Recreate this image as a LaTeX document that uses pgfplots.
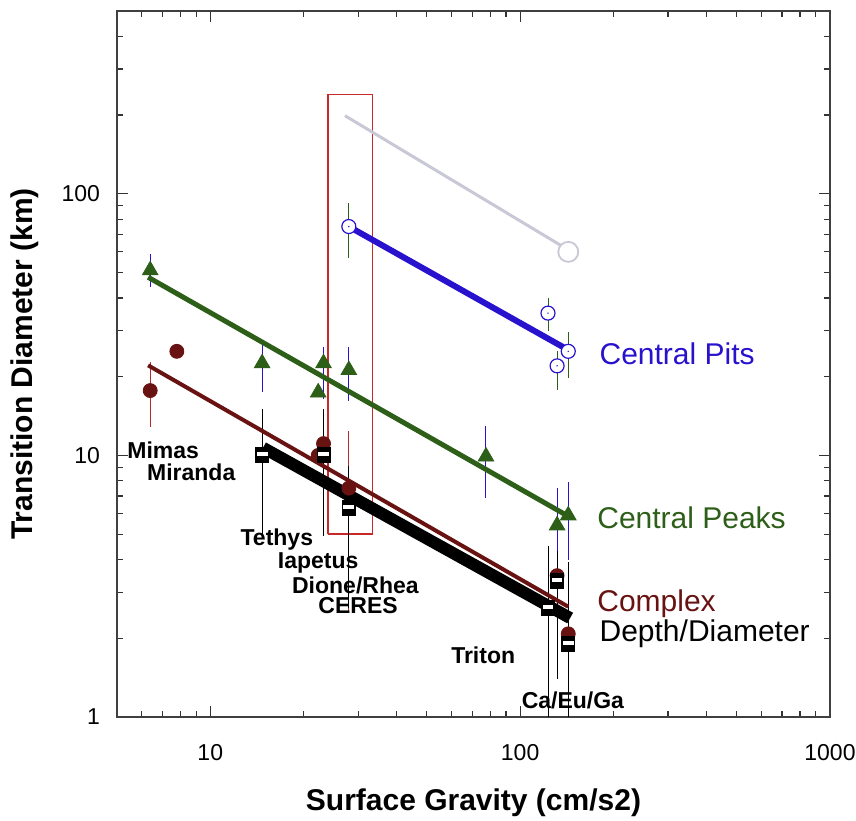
\documentclass[border=0pt]{standalone}
\usepackage{fontspec}
\setmainfont{Liberation Sans}
\usepackage{pgfplots}
\pgfplotsset{compat=1.18}
\usetikzlibrary{calc}

\definecolor{pitblue}{RGB}{40,18,205}
\definecolor{peakgreen}{RGB}{45,95,25}
\definecolor{cplxred}{RGB}{105,18,18}
\definecolor{errred}{RGB}{185,40,40}
\definecolor{boxred}{RGB}{200,40,40}
\definecolor{lightgray}{RGB}{200,200,214}

% open circle with a dot in it
\pgfdeclareplotmark{pit}{%
  \pgfsetfillcolor{white}%
  \pgfpathcircle{\pgfpointorigin}{\pgfplotmarksize}\pgfusepathqfillstroke
  \pgfsetfillcolor{pitblue}%
  \pgfpathcircle{\pgfpointorigin}{0.4pt}\pgfusepathqfill}
% black square with white bar
\pgfdeclareplotmark{dd}{%
  \pgfsetfillcolor{black}%
  \pgfpathrectangle{\pgfpoint{-3.5pt}{-4pt}}{\pgfpoint{7pt}{8pt}}\pgfusepathqfill
  \pgfsetfillcolor{white}%
  \pgfpathrectangle{\pgfpoint{-2.7pt}{-0.4pt}}{\pgfpoint{5.4pt}{2.1pt}}\pgfusepathqfill}

\begin{document}
\begin{tikzpicture}
\begin{axis}[
  xmode=log, ymode=log,
  scale only axis, width=356.5pt, height=353pt,
  xmin=5, xmax=1000, ymin=1, ymax=500,
  xtick={10,100,1000}, xticklabels={10,100,1000},
  ytick={1,10,100}, yticklabels={1,10,100},
  minor xtick={6,7,8,9,20,30,40,50,60,70,80,90,200,300,400,500,600,700,800,900},
  minor ytick={2,3,4,5,6,7,8,9,20,30,40,50,60,70,80,90,200,300,400},
  major tick length=5.3pt, minor tick length=2.8pt,
  tick style={black!80, line width=0.6pt},
  axis line style={black!75, line width=0.8pt},
  tick label style={font=\fontsize{11.5}{13}\selectfont},
  xticklabel style={yshift=-10pt},
  yticklabel style={xshift=-5pt},
  xlabel={Surface Gravity (cm/s2)},
  ylabel={Transition Diameter (km)},
  every axis x label/.style={at={(axis description cs:0.5,-0.1215)}, anchor=center,
    font=\fontsize{15}{18}\selectfont\bfseries},
  every axis y label/.style={at={(axis description cs:-0.129,0.5)}, rotate=90, anchor=center,
    font=\fontsize{15}{18}\selectfont\bfseries},
  unbounded coords=jump,
  clip mode=individual,
]
% selection box
\addplot[boxred, line width=0.7pt] coordinates {(24,5) (33.4,5) (33.4,240) (24,240) (24,5)};

% ---- error bars ----
\addplot[pitblue, line width=0.5pt] coordinates {
 (6.4,59) (6.4,44) (6.4,nan)
 (14.7,26.8) (14.7,17.5) (14.7,nan)
 (23.2,26) (23.2,16.5) (23.2,nan)
 (28,26) (28,16.2) (28,nan)
 (77.6,12.9) (77.6,6.9) (77.6,nan)
 (131.6,7.5) (131.6,4.3) (131.6,nan)
 (143,7.9) (143,4.0)};
\addplot[peakgreen, line width=0.5pt] coordinates {
 (28,92) (28,57) (28,nan)
 (123,40) (123,30) (123,nan)
 (143,29.6) (143,19.7) (143,nan)
 (131.6,25) (131.6,17.8)};
\addplot[errred, line width=0.5pt] coordinates {
 (6.4,22.8) (6.4,12.8) (6.4,nan)
 (28,12.4) (28,2.5)};
\addplot[black, line width=0.5pt] coordinates {
 (14.7,15) (14.7,4.9) (14.7,nan)
 (23.2,15) (23.2,4.9) (23.2,nan)
 (28,9.1) (28,2.6) (28,nan)
 (123,4.5) (123,1) (123,nan)
 (131.6,4.3) (131.6,1.4) (131.6,nan)
 (143,3.9) (143,1)};

% ---- fitted lines ----
\addplot[lightgray, line width=1.5pt] coordinates {(27.2,199) (140,62)};
\addplot[pitblue, line width=3pt] coordinates {(28,75) (138,25.9)};
\addplot[peakgreen, line width=2.5pt] coordinates {(6.3,48) (145,5.8)};
\addplot[black, line width=6pt] coordinates {(14.8,10.7) (145,2.39)};
\addplot[cplxred, line width=2pt] coordinates {(6.3,22.1) (143,2.64)};

% ---- markers ----
\addplot[only marks, mark=*, mark size=5pt, mark options={draw=lightgray, fill=white, line width=0.9pt}]
  coordinates {(143,60)};
\addplot[only marks, mark=pit, mark size=3.5pt, mark options={draw=pitblue, line width=0.6pt}]
  coordinates {(28,75) (123,35) (143,25) (131.6,22)};
\addplot[only marks, mark=triangle*, mark size=4.5pt, peakgreen]
  coordinates {(6.4,51) (14.7,22.5) (23.2,22.5) (22.3,17.4) (28,21.2) (77.6,9.9) (131.6,5.4) (143,5.9)};
\addplot[only marks, mark=*, mark size=3.5pt, cplxred]
  coordinates {(6.4,17.7) (7.8,25) (22.3,10) (23.2,11.1) (28,7.5) (131.6,3.47) (143,2.08)};
\addplot[only marks, mark=dd]
  coordinates {(14.7,10) (23.2,10) (28,6.3) (123,2.6) (131.6,3.3) (143,1.9)};

% ---- body names ----
\begin{scope}[every node/.style={font=\fontsize{11.5}{13}\selectfont\bfseries, anchor=mid}]
\node at (axis cs:7.05,10.2) {Mimas};
\node at (axis cs:8.68,8.37) {Miranda};
\node at (axis cs:16.4,4.72) {Tethys};
\node at (axis cs:22.3,3.86) {Iapetus};
\node at (axis cs:29.4,3.12) {Dione/Rhea};
\node at (axis cs:30,2.6) {CERES};
\node at (axis cs:76,1.68) {Triton};
\node at (axis cs:148,1.13) {Ca/Eu/Ga};
\end{scope}

% ---- series names ----
\begin{scope}[every node/.style={font=\fontsize{15}{18}\selectfont, anchor=mid west, inner sep=0pt}]
\node[text=pitblue] at (axis cs:180,23.4) {Central Pits};
\node[text=peakgreen] at (axis cs:177,5.5) {Central Peaks};
\node[text=cplxred] at (axis cs:177,2.66) {Complex};
\node[text=black] at (axis cs:180,2.04) {Depth/Diameter};
\end{scope}
\end{axis}
\pgfresetboundingbox
\path ($(current axis.south west)+(-58.5pt,-51.5pt)$) rectangle ($(current axis.north east)+(13pt,5.5pt)$);
\end{tikzpicture}
\end{document}
